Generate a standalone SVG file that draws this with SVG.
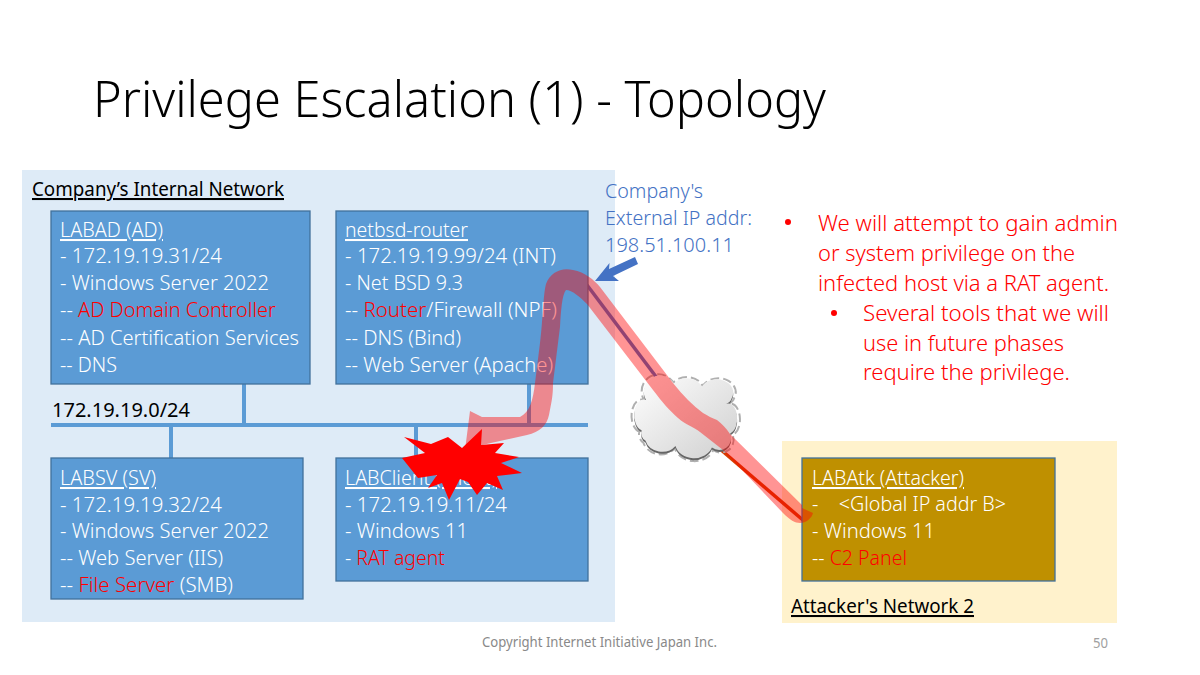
<svg xmlns="http://www.w3.org/2000/svg" width="1200" height="675" viewBox="0 0 1200 675">
<style>
text{font-family:"Noto Sans","Open Sans","Liberation Sans",sans-serif;white-space:pre}
.box{fill:#5b9bd5;stroke:#41719c;stroke-width:1.3}
.t{font-size:20.5px;fill:#fff;font-weight:300}
.r{fill:#f00}
.u{text-decoration:underline}
.h{font-size:20.5px;fill:#000;text-decoration:underline}
.c{font-size:20px;fill:#4472c4;font-weight:300}
.b{font-size:22.5px;fill:#f00;font-weight:300}
.bus{stroke:#5b9bd5;stroke-width:4;fill:none}
</style>
<defs>
<linearGradient id="cg" x1="0" y1="0" x2="1" y2="1"><stop offset="0" stop-color="#fff"/><stop offset="1" stop-color="#cfcfcf"/></linearGradient>
<path id="cl" d="M178,515 A30,48 0 0 1 192,420 A50,50 0 0 1 280,368 A50,40 0 0 1 368,378 A50,40 0 0 1 462,415 Q460,425 445,432 A28,47 0 0 1 458,525 A38,38 0 0 1 400,570 A60,50 0 0 1 285,565 A55,50 0 0 1 190,548 A30,30 0 0 1 178,515 Z"/>
</defs>
<rect width="1200" height="675" fill="#fff"/>
<text x="93" y="117" font-size="50" font-weight="300" textLength="733" lengthAdjust="spacingAndGlyphs" fill="#000">Privilege Escalation (1) - Topology</text>
<g id="internal-network">
<rect x="22" y="170" width="593" height="452" fill="#deebf7"/>
<text class="h" x="32" y="196" textLength="252" lengthAdjust="spacingAndGlyphs">Company’s Internal Network</text>
</g>
<g id="attacker-network">
<rect x="782" y="441" width="335" height="182" fill="#fff2cc"/>
<text class="h" x="791" y="613" textLength="183" lengthAdjust="spacingAndGlyphs">Attacker's Network 2</text>
</g>
<g id="connectors">
<path class="bus" d="M51,425H588M244,384V425M171,425V458M416,425V458M529,384V425"/>
<path d="M587,285L660,382" stroke="#4472c4" stroke-width="3.5" fill="none"/>
<path d="M720,449L804,521" stroke="#d83b01" stroke-width="3.5" fill="none"/>
</g>
<g id="labad">
<rect class="box" x="51" y="211" width="259" height="173"/>
<text class="t" x="60" y="237" textLength="103" lengthAdjust="spacingAndGlyphs"><tspan class="u">LABAD (AD)</tspan></text>
<text class="t" x="60" y="263" textLength="162" lengthAdjust="spacingAndGlyphs">- 172.19.19.31/24</text>
<text class="t" x="60" y="290" textLength="209" lengthAdjust="spacingAndGlyphs">- Windows Server 2022</text>
<text class="t" x="60" y="317" textLength="216" lengthAdjust="spacingAndGlyphs">-- <tspan class="r">AD Domain Controller</tspan></text>
<text class="t" x="60" y="345" textLength="239" lengthAdjust="spacingAndGlyphs">-- AD Certification Services</text>
<text class="t" x="60" y="372" textLength="57" lengthAdjust="spacingAndGlyphs">-- DNS</text>
</g>
<g id="netbsd-router">
<rect class="box" x="336" y="211" width="252" height="173"/>
<text class="t" x="345" y="237" textLength="123" lengthAdjust="spacingAndGlyphs"><tspan class="u">netbsd-router</tspan></text>
<text class="t" x="345" y="263" textLength="211" lengthAdjust="spacingAndGlyphs">- 172.19.19.99/24 (INT)</text>
<text class="t" x="345" y="290" textLength="118" lengthAdjust="spacingAndGlyphs">- Net BSD 9.3</text>
<text class="t" x="345" y="317" textLength="212" lengthAdjust="spacingAndGlyphs">-- <tspan class="r">Router</tspan>/Firewall (NPF)</text>
<text class="t" x="345" y="345" textLength="116" lengthAdjust="spacingAndGlyphs">-- DNS (Bind)</text>
<text class="t" x="345" y="372" textLength="208" lengthAdjust="spacingAndGlyphs">-- Web Server (Apache)</text>
</g>
<text x="52" y="417" font-size="20.5" fill="#000" textLength="138" lengthAdjust="spacingAndGlyphs">172.19.19.0/24</text>
<g id="labsv">
<rect class="box" x="51" y="458" width="252" height="141"/>
<text class="t" x="60" y="485" textLength="96" lengthAdjust="spacingAndGlyphs"><tspan class="u">LABSV (SV)</tspan></text>
<text class="t" x="60" y="512" textLength="162" lengthAdjust="spacingAndGlyphs">- 172.19.19.32/24</text>
<text class="t" x="60" y="538" textLength="209" lengthAdjust="spacingAndGlyphs">- Windows Server 2022</text>
<text class="t" x="60" y="565" textLength="163" lengthAdjust="spacingAndGlyphs">-- Web Server (IIS)</text>
<text class="t" x="60" y="592" textLength="173" lengthAdjust="spacingAndGlyphs">-- <tspan class="r">File Server</tspan> (SMB)</text>
</g>
<g id="labclient">
<rect class="box" x="336" y="458" width="252" height="123"/>
<text class="t" x="345" y="485" textLength="152" lengthAdjust="spacingAndGlyphs"><tspan class="u">LABClient (Client)</tspan></text>
<text class="t" x="345" y="512" textLength="162" lengthAdjust="spacingAndGlyphs">- 172.19.19.11/24</text>
<text class="t" x="345" y="538" textLength="123" lengthAdjust="spacingAndGlyphs">- Windows 11</text>
<text class="t" x="345" y="565" textLength="100" lengthAdjust="spacingAndGlyphs">- <tspan class="r">RAT agent</tspan></text>
</g>
<g id="labatk">
<rect x="802" y="458" width="253" height="123" fill="#bf9000" stroke="#41719c" stroke-width="1.3"/>
<text class="t" x="812" y="485" textLength="152" lengthAdjust="spacingAndGlyphs"><tspan class="u">LABAtk (Attacker)</tspan></text>
<text class="t" x="812" y="511" textLength="194" lengthAdjust="spacingAndGlyphs">-    &lt;Global IP addr B&gt;</text>
<text class="t" x="812" y="538" textLength="123" lengthAdjust="spacingAndGlyphs">- Windows 11</text>
<text class="t" x="812" y="565" textLength="95" lengthAdjust="spacingAndGlyphs">-- <tspan class="r">C2 Panel</tspan></text>
</g>
<g id="cloud" transform="translate(580 260) scale(.3333)">
<use href="#cl" fill="none" stroke="#b0b0b0" stroke-width="6" stroke-dasharray="26 12"/>
<use href="#cl" fill="#666" transform="translate(315 469) scale(.95) translate(-315 -465)"/>
<use href="#cl" fill="url(#cg)" transform="translate(315 463) scale(.95) translate(-315 -465)"/>
</g>
<path id="attack-path" fill="#f00" fill-opacity=".42" d="M802,505L730,434C726,428 722,424 717,420C712,418 708,416 703,413C698,409 693,405 688,400C683,395 678,389 673,383L600,287C594,280 585,272 573,270C562,267 550,272 546,284C543,295 543,320 540,343L535,383C533,400 530,412 520,417L490,417L482,417L470,411L465,450L482,445L527,435C540,432 547,425 549,415C552,400 553,395 553,383L560,327C561,310 562,295 566,290C572,290 580,297 587,304L653,390C662,402 670,411 678,418C686,425 694,427 700,432L723,450L783,513C790,520 795,523 800,523C806,523 812,518 813,513L802,508Z"/>
<polygon id="burst" fill="#f00" points="404,437 431,444 448,437 462,448 482,429 481,445 504,443 495,453 519,457 501,463 522,473 497,476 503,490 487,483 477,495 468,482 460,479 449,500 442,483 428,488 437,475 418,478 402,458 425,453"/>
<polygon id="ip-arrow" fill="#4472c4" points="595,281 609.5,263 609,269 635,257 638,264 613,276 619,281"/>
<g id="external-ip">
<text class="c" x="605" y="198" textLength="98" lengthAdjust="spacingAndGlyphs">Company's</text>
<text class="c" x="605" y="225" textLength="147" lengthAdjust="spacingAndGlyphs">External IP addr:</text>
<text class="c" x="605" y="252" textLength="129" lengthAdjust="spacingAndGlyphs">198.51.100.11</text>
</g>
<g id="notes">
<circle cx="788" cy="222" r="3" fill="#f00"/>
<text class="b" x="818" y="231" textLength="300" lengthAdjust="spacingAndGlyphs">We will attempt to gain admin</text>
<text class="b" x="818" y="261" textLength="257" lengthAdjust="spacingAndGlyphs">or system privilege on the</text>
<text class="b" x="818" y="291" textLength="291" lengthAdjust="spacingAndGlyphs">infected host via a RAT agent.</text>
<circle cx="834" cy="313" r="3" fill="#f00"/>
<text class="b" x="863" y="321" textLength="246" lengthAdjust="spacingAndGlyphs">Several tools that we will</text>
<text class="b" x="863" y="351" textLength="201" lengthAdjust="spacingAndGlyphs">use in future phases</text>
<text class="b" x="863" y="380" textLength="207" lengthAdjust="spacingAndGlyphs">require the privilege.</text>
</g>
<text x="482" y="647" font-size="13.5" fill="#898989" textLength="235" lengthAdjust="spacingAndGlyphs">Copyright Internet Initiative Japan Inc.</text>
<text x="1093" y="648" font-size="13.5" fill="#a0a0a0" textLength="15" lengthAdjust="spacingAndGlyphs">50</text>
</svg>
